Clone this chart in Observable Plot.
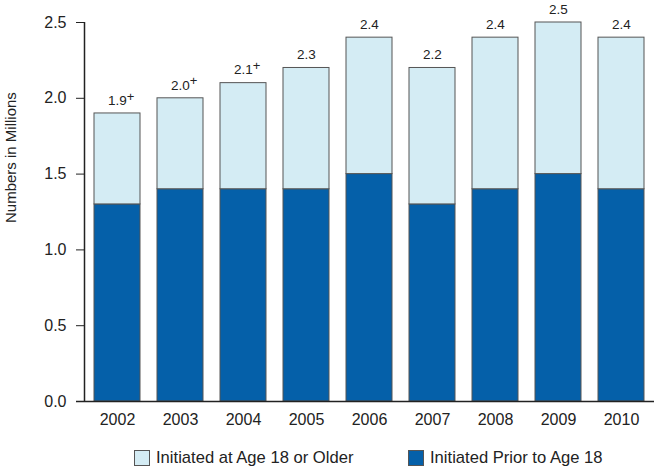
<!DOCTYPE html>
<html>
<head>
<meta charset="utf-8">
<script src="https://cdn.jsdelivr.net/npm/d3@7"></script>
<script src="https://cdn.jsdelivr.net/npm/@observablehq/plot@0.6"></script>
<style>
  body { margin: 0; background: #fff; font-family: "Liberation Sans", Arial, sans-serif; }
  #chart svg { display: block; }
  .legend { position: relative; height: 32px; font-size: 16.6px; color: #222; }
  .item { position: absolute; top: 8px; display: flex; align-items: center; }
  .sw { width: 16px; height: 16px; border: 1px solid #555; margin-right: 6px; box-sizing: border-box; }
</style>
</head>
<body>
<div id="chart"></div>
<div class="legend">
  <div class="item" style="left:134px"><span class="sw" style="background:#d4ecf4"></span><span>Initiated at Age 18 or Older</span></div>
  <div class="item" style="left:408px"><span class="sw" style="background:#0560a9"></span><span>Initiated Prior to Age 18</span></div>
</div>
<script>
const years = ["2002","2003","2004","2005","2006","2007","2008","2009","2010"];
const prior18 = [1.3, 1.4, 1.4, 1.4, 1.5, 1.3, 1.4, 1.5, 1.4];
const older18 = [0.6, 0.6, 0.7, 0.8, 0.9, 0.9, 1.0, 1.0, 1.0];
const totalLabels = ["1.9", "2.0", "2.1", "2.3", "2.4", "2.2", "2.4", "2.5", "2.4"];
const plusMarks = ["+", "+", "+", "", "", "", "", "", ""];
const seriesNames = ["Initiated Prior to Age 18", "Initiated at Age 18 or Older"];
const yTicks = [0, 0.5, 1.0, 1.5, 2.0, 2.5];

const rows = [];
years.forEach((y, i) => {
  rows.push({year: y, series: seriesNames[0], value: prior18[i]});
  rows.push({year: y, series: seriesNames[1], value: older18[i]});
});
const totals = years.map((y, i) => ({year: y, total: prior18[i] + older18[i], label: totalLabels[i], plus: plusMarks[i]}));

const chart = Plot.plot({
  width: 654,
  height: 440,
  marginLeft: 84,
  marginRight: 0,
  marginTop: 22,
  marginBottom: 39,
  style: {fontFamily: "'Liberation Sans', Arial, sans-serif", fontSize: "16px", color: "#222"},
  x: {domain: years, paddingInner: 0.273, paddingOuter: 0.1365, label: null},
  y: {domain: [0, 2.5], ticks: yTicks, label: null},
  color: {domain: seriesNames, range: ["#0560a9", "#d4ecf4"]},
  marks: [
    Plot.barY(rows, Plot.stackY({x: "year", y: "value", fill: "series", order: seriesNames, stroke: "#555", strokeWidth: 1})),
    Plot.axisY({ticks: yTicks, tickFormat: d3.format(".1f"), tickSize: 8, tickPadding: 10, fontSize: 16, stroke: "#222", label: null}),
    Plot.axisX({tickSize: 0, tickPadding: 12, fontSize: 16, label: null}),
    Plot.ruleY([0], {stroke: "#222", strokeWidth: 1.5, insetLeft: -8}),
    Plot.text(totals, {x: "year", y: "total", text: "label", dy: -13, fontSize: 13.5, fill: "#222"}),
    Plot.text(totals, {x: "year", y: "total", text: "plus", dy: -17, dx: 13, fontSize: 13, fill: "#222"}),
    Plot.text(["Numbers in Millions"], {frameAnchor: "left", dx: -73, dy: 11, rotate: -90, fontSize: 15, fill: "#222"})
  ]
});
// y axis line
const svg = d3.select(chart);
svg.append("line").attr("x1", 84.5).attr("x2", 84.5).attr("y1", 22).attr("y2", 401).attr("stroke", "#222").attr("stroke-width", 1.5);
document.getElementById("chart").appendChild(chart);
</script>
</body>
</html>
